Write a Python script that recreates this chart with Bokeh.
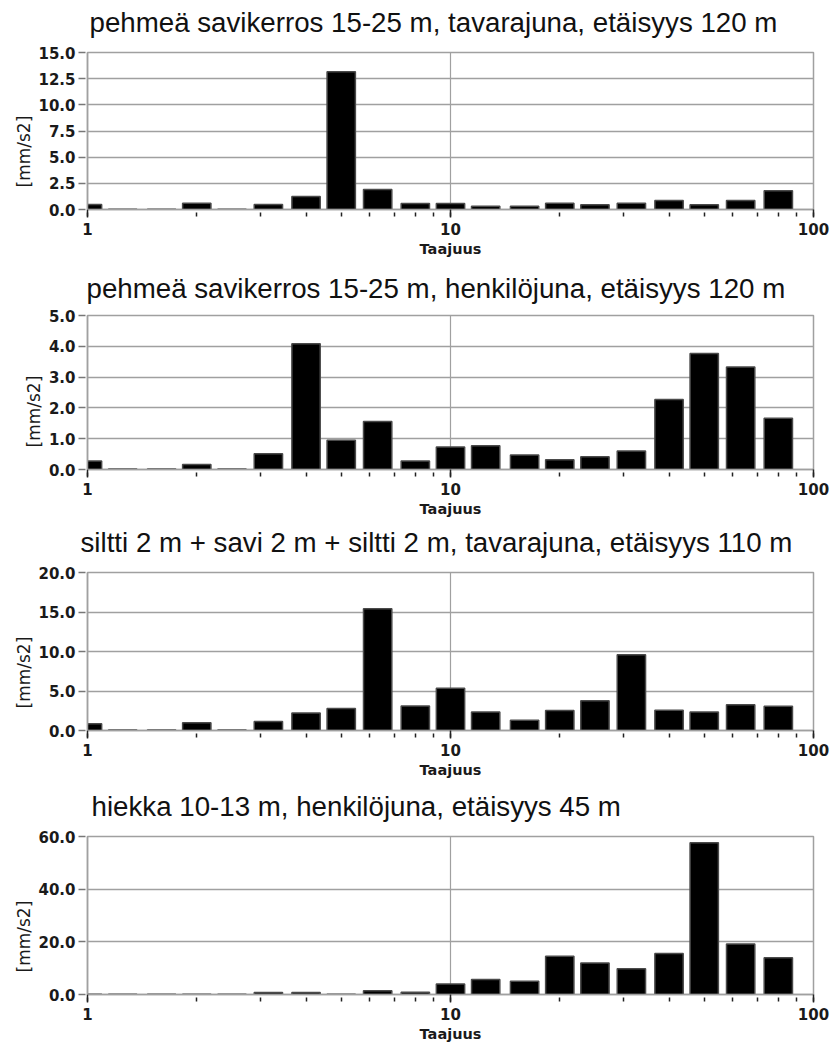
from bokeh.plotting import figure
from bokeh.layouts import column
from bokeh.models import (ColumnDataSource, FixedTicker, LogTicker,
                          NumeralTickFormatter, Title)
from bokeh.embed import file_html
from bokeh.resources import INLINE

# Third-octave band centre frequencies (Hz)
bands = [1, 1.25, 1.6, 2, 2.5, 3.15, 4, 5, 6.3, 8, 10, 12.5, 16, 20, 25,
         31.5, 40, 50, 63, 80]

title_1 = "pehmeä savikerros 15-25 m, tavarajuna, etäisyys 120 m"
title_2 = "pehmeä savikerros 15-25 m, henkilöjuna, etäisyys 120 m"
title_3 = "siltti 2 m + savi 2 m + siltti 2 m, tavarajuna, etäisyys 110 m"
title_4 = "hiekka 10-13 m, henkilöjuna, etäisyys 45 m"

# Acceleration per band [mm/s2]
accel_1 = [0.48, 0.03, 0.03, 0.6, 0.03, 0.48, 1.24, 13.15, 1.9, 0.57,
           0.57, 0.32, 0.32, 0.6, 0.45, 0.6, 0.86, 0.45, 0.86, 1.79]
accel_2 = [0.28, 0.02, 0.02, 0.16, 0.02, 0.51, 4.08, 0.95, 1.56, 0.28,
           0.73, 0.77, 0.47, 0.32, 0.41, 0.6, 2.27, 3.77, 3.33, 1.66]
accel_3 = [0.85, 0.05, 0.05, 0.97, 0.05, 1.14, 2.2, 2.79, 15.4, 3.1,
           5.36, 2.33, 1.3, 2.53, 3.78, 9.58, 2.55, 2.33, 3.27, 3.07]
accel_4 = [0.1, 0.1, 0.1, 0.1, 0.1, 0.76, 0.76, 0.1, 1.4, 0.85,
           4.0, 5.65, 5.0, 14.5, 12.0, 9.8, 15.6, 57.6, 19.2, 14.0]

y_ticks_1 = [0, 2.5, 5, 7.5, 10, 12.5, 15]
y_ticks_2 = [0, 1, 2, 3, 4, 5]
y_ticks_3 = [0, 5, 10, 15, 20]
y_ticks_4 = [0, 20, 40, 60]

x_label = "Taajuus"
y_label = "[mm/s2]"

GRID = "#a0a0a0"
BAR_HALF = 10 ** 0.039   # bar half-width as a ratio on the log axis


def make_panel(title, vals, yticks, height, top, bottom, title_offset,
               title_gap):
    src = ColumnDataSource(dict(
        left=[f / BAR_HALF for f in bands],
        right=[f * BAR_HALF for f in bands],
        top=vals,
        bottom=[0] * len(vals),
    ))
    p = figure(width=834, height=height, x_axis_type="log",
               x_range=(1, 100), y_range=(0, yticks[-1]),
               output_backend="svg", toolbar_location=None,
               min_border_left=87, min_border_right=21,
               min_border_top=top, min_border_bottom=bottom)

    # empty strip that keeps the heading clear of the plot area
    p.add_layout(Title(text=" ", text_font_size="1px", standoff=title_gap),
                 "above")
    p.title = Title(text=title, align="left", offset=title_offset,
                    text_font="Liberation Sans", text_font_size="27.7px",
                    text_font_style="normal", text_color="#111111",
                    standoff=0)

    p.quad(left="left", right="right", top="top", bottom="bottom",
           source=src, fill_color="black", line_color="#4a4a4a",
           line_width=1.5)

    p.background_fill_color = "white"
    p.border_fill_color = "white"
    p.outline_line_color = GRID
    p.outline_line_width = 1.5

    # grid: horizontal at every y tick, vertical only at 10
    p.ygrid.ticker = FixedTicker(ticks=yticks)
    p.ygrid.grid_line_color = GRID
    p.ygrid.grid_line_width = 1.5
    p.xgrid.ticker = FixedTicker(ticks=[10])
    p.xgrid.grid_line_color = GRID
    p.xgrid.grid_line_width = 1.2

    xa = p.xaxis[0]
    xa.ticker = LogTicker(num_minor_ticks=10)
    xa.formatter = NumeralTickFormatter(format="0")
    xa.axis_line_color = GRID
    xa.axis_line_width = 1.5
    xa.major_tick_in = 0
    xa.major_tick_out = 8
    xa.major_tick_line_color = "#222222"
    xa.major_tick_line_width = 1.5
    xa.minor_tick_in = -3
    xa.minor_tick_out = 7
    xa.minor_tick_line_color = "#222222"
    xa.minor_tick_line_width = 1.5
    xa.major_label_text_font = "DejaVu Sans"
    xa.major_label_text_font_style = "bold"
    xa.major_label_text_font_size = "15px"
    xa.major_label_text_color = "#1a1a1a"
    xa.major_label_standoff = 5
    xa.axis_label = x_label
    xa.axis_label_text_font = "DejaVu Sans"
    xa.axis_label_text_font_style = "bold"
    xa.axis_label_text_font_size = "14.5px"
    xa.axis_label_text_color = "#1a1a1a"
    xa.axis_label_standoff = 3

    ya = p.yaxis[0]
    ya.ticker = FixedTicker(ticks=yticks)
    ya.formatter = NumeralTickFormatter(format="0.0")
    ya.axis_line_color = GRID
    ya.axis_line_width = 1.5
    ya.major_tick_in = -2
    ya.major_tick_out = 9
    ya.major_tick_line_color = "#777777"
    ya.major_tick_line_width = 1.5
    ya.minor_tick_line_color = None
    ya.major_label_text_font = "DejaVu Sans"
    ya.major_label_text_font_style = "bold"
    ya.major_label_text_font_size = "15px"
    ya.major_label_text_color = "#1a1a1a"
    ya.major_label_standoff = 3

    # unit label, placed a little below the middle of the plot height
    p.add_layout(Title(text=y_label, align="left", offset=22,
                       text_font="DejaVu Sans", text_font_size="17px",
                       text_font_style="normal", text_color="#1a1a1a",
                       standoff=4), "left")
    return p


p1 = make_panel(title_1, accel_1, y_ticks_1, 262, 52, 53, 2, 12)
p2 = make_panel(title_2, accel_2, y_ticks_2, 262, 53, 55, -1, 9)
p3 = make_panel(title_3, accel_3, y_ticks_3, 262, 48, 56, -7, 12)
p4 = make_panel(title_4, accel_4, y_ticks_4, 262, 50, 54, 4, 12)

layout = column(p1, p2, p3, p4, spacing=0)

open("out.html", "w").write(file_html(layout, INLINE))
